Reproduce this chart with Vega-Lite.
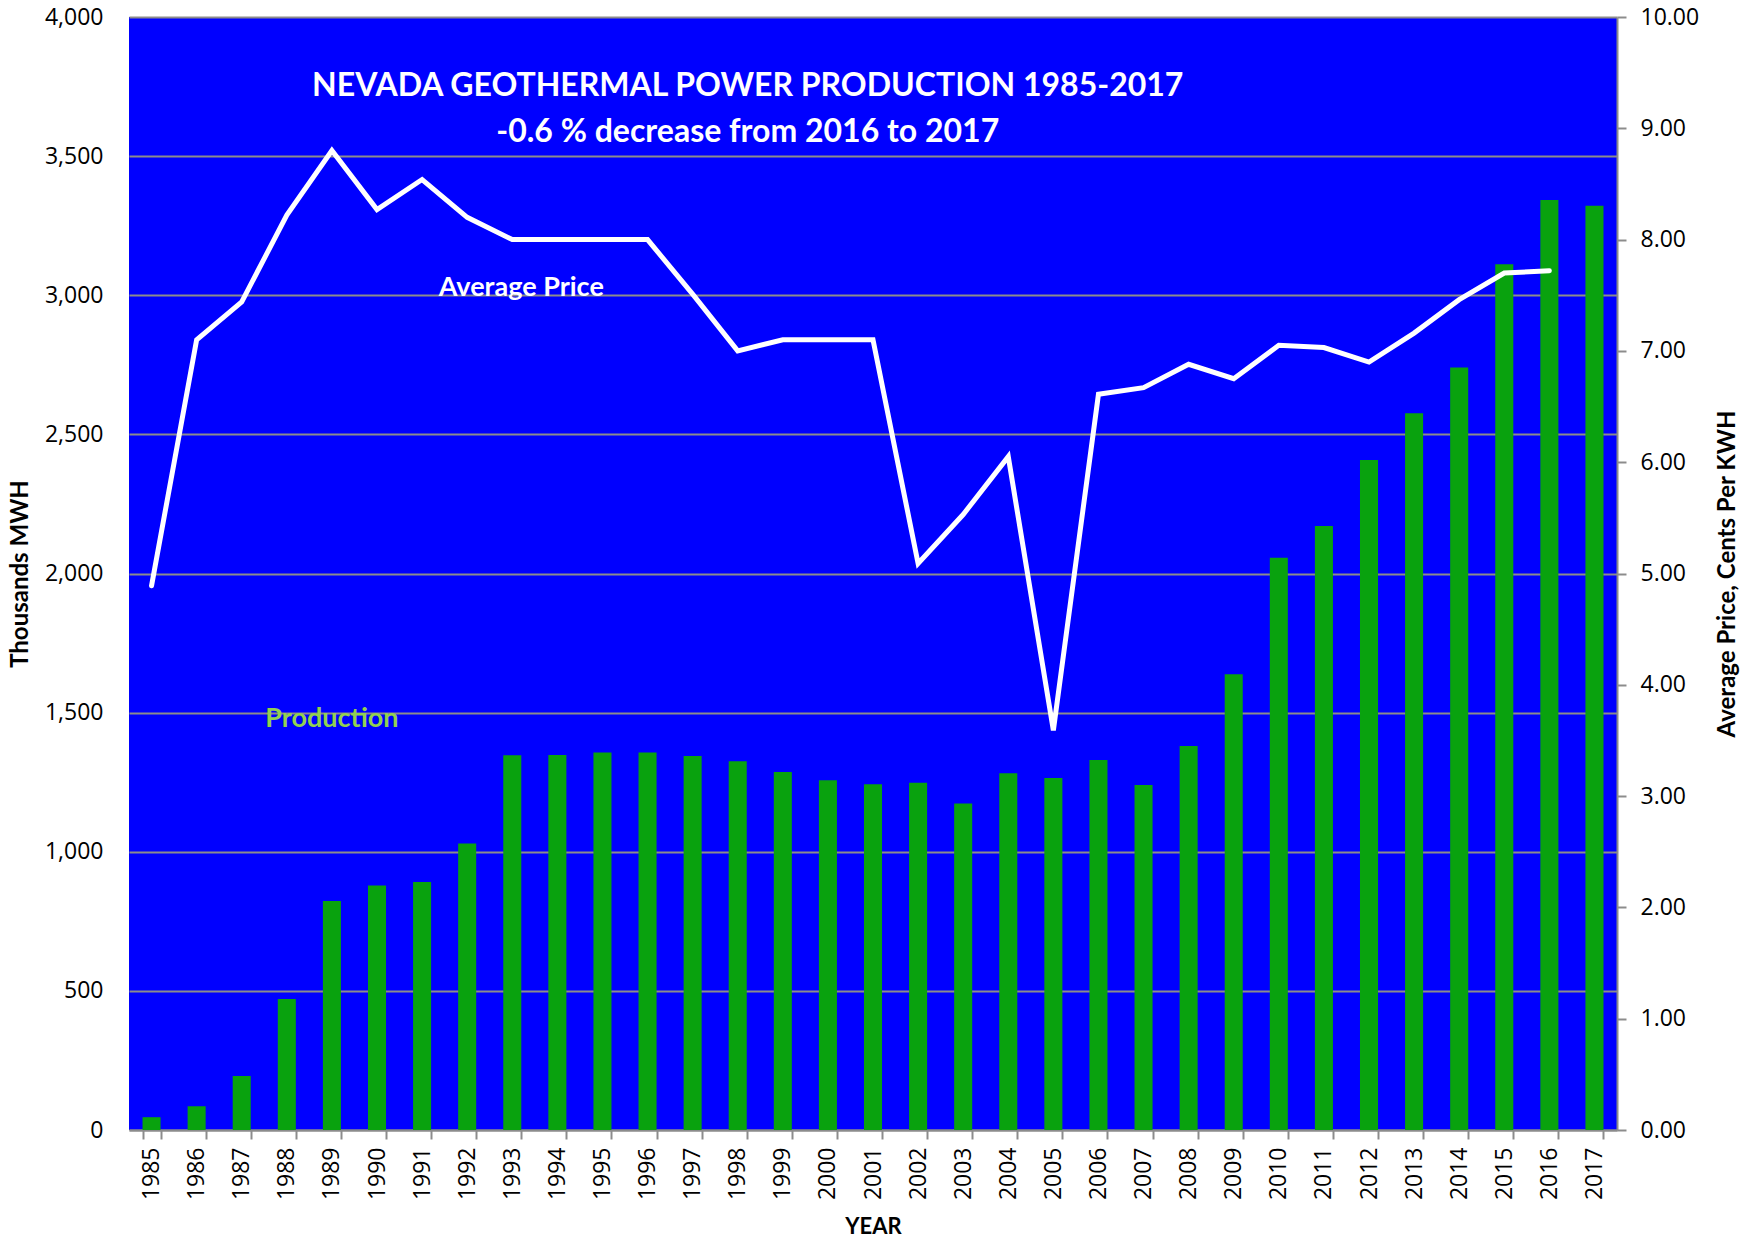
{
  "$schema": "https://vega.github.io/schema/vega-lite/v6.json",
  "width": 1488,
  "height": 1113,
  "autosize": {"type": "none"},
  "padding": {"left": 129, "top": 17, "right": 126, "bottom": 109},
  "background": "white",
  "config": {
    "view": {"fill": "#0000FF", "stroke": null},
    "font": "Open Sans",
    "axis": {
      "labelFont": "Open Sans",
      "labelFontSize": 23,
      "labelColor": "#000000",
      "titleFont": "Lato",
      "titleFontWeight": "bold",
      "titleFontSize": 24,
      "titleColor": "#000000",
      "domainColor": "#8c8c8c",
      "domainWidth": 2,
      "tickColor": "#8c8c8c",
      "tickWidth": 2,
      "tickSize": 9,
      "gridColor": "#8c8c8c",
      "gridWidth": 2
    }
  },
  "data": {
    "values": [
      {"year": "1985", "production": 46, "price": 4.89},
      {"year": "1986", "production": 85, "price": 7.10},
      {"year": "1987", "production": 194, "price": 7.44},
      {"year": "1988", "production": 471, "price": 8.22},
      {"year": "1989", "production": 823, "price": 8.80},
      {"year": "1990", "production": 879, "price": 8.27},
      {"year": "1991", "production": 891, "price": 8.54},
      {"year": "1992", "production": 1030, "price": 8.20},
      {"year": "1993", "production": 1347, "price": 8.00},
      {"year": "1994", "production": 1348, "price": 8.00},
      {"year": "1995", "production": 1357, "price": 8.00},
      {"year": "1996", "production": 1357, "price": 8.00},
      {"year": "1997", "production": 1344, "price": 7.51},
      {"year": "1998", "production": 1325, "price": 7.00},
      {"year": "1999", "production": 1287, "price": 7.10},
      {"year": "2000", "production": 1257, "price": 7.10},
      {"year": "2001", "production": 1243, "price": 7.10},
      {"year": "2002", "production": 1248, "price": 5.09},
      {"year": "2003", "production": 1173, "price": 5.53},
      {"year": "2004", "production": 1282, "price": 6.05},
      {"year": "2005", "production": 1265, "price": 3.59},
      {"year": "2006", "production": 1330, "price": 6.61},
      {"year": "2007", "production": 1240, "price": 6.67},
      {"year": "2008", "production": 1380, "price": 6.88},
      {"year": "2009", "production": 1638, "price": 6.75},
      {"year": "2010", "production": 2057, "price": 7.05},
      {"year": "2011", "production": 2171, "price": 7.03},
      {"year": "2012", "production": 2408, "price": 6.90},
      {"year": "2013", "production": 2576, "price": 7.16},
      {"year": "2014", "production": 2740, "price": 7.46},
      {"year": "2015", "production": 3111, "price": 7.70},
      {"year": "2016", "production": 3342, "price": 7.72},
      {"year": "2017", "production": 3322, "price": null}
    ]
  },
  "encoding": {
    "x": {
      "field": "year",
      "type": "ordinal",
      "scale": {"paddingInner": 0.6, "paddingOuter": 0.3},
      "axis": {
        "title": "YEAR",
        "labelAngle": 270,
        "labelAlign": "right",
        "labelBaseline": "middle",
        "labelPadding": 8,
        "tickBand": "extent",
        "titlePadding": 17,
        "titleFontSize": 22,
        "grid": false
      }
    }
  },
  "layer": [
    {
      "layer": [
        {
          "mark": {"type": "bar", "color": "#09A20E"},
          "encoding": {
            "y": {
              "field": "production",
              "type": "quantitative",
              "scale": {"domain": [0, 4000], "nice": false},
              "axis": {
                "orient": "left",
                "title": "Thousands MWH",
                "values": [0, 500, 1000, 1500, 2000, 2500, 3000, 3500, 4000],
                "format": ",.0f",
                "domain": false,
                "ticks": false,
                "grid": true,
                "labelPadding": 26,
                "titlePadding": 12
              }
            }
          }
        },
        {
          "data": {
            "values": [
              {"year": "1998", "value": 3752, "label": "NEVADA GEOTHERMAL POWER PRODUCTION 1985-2017"},
              {"year": "1998", "value": 3588, "label": "-0.6 % decrease from 2016 to 2017"}
            ]
          },
          "mark": {"type": "text", "font": "Lato", "fontWeight": "bold", "fontSize": 32, "color": "white", "align": "center", "baseline": "middle", "dx": 10},
          "encoding": {
            "y": {"field": "value", "type": "quantitative"},
            "text": {"field": "label"}
          }
        },
        {
          "data": {
            "values": [
              {"year": "1989", "value": 1477, "label": "Production"}
            ]
          },
          "mark": {"type": "text", "font": "Lato", "fontWeight": "bold", "fontSize": 27, "color": "#92D050", "align": "center", "baseline": "middle"},
          "encoding": {
            "y": {"field": "value", "type": "quantitative"},
            "text": {"field": "label"}
          }
        }
      ]
    },
    {
      "layer": [
        {
          "transform": [{"filter": "datum.price != null"}],
          "mark": {"type": "line", "color": "white", "strokeWidth": 5, "strokeCap": "round", "strokeJoin": "miter"},
          "encoding": {
            "y": {
              "field": "price",
              "type": "quantitative",
              "scale": {"domain": [0, 10], "nice": false},
              "axis": {
                "orient": "right",
                "title": "Average Price, Cents Per KWH",
                "titleAngle": 270,
                "values": [0, 1, 2, 3, 4, 5, 6, 7, 8, 9, 10],
                "format": ".2f",
                "grid": false,
                "labelPadding": 14,
                "titlePadding": 41
              }
            }
          }
        },
        {
          "data": {
            "values": [
              {"year": "1993", "price": 7.565, "label": "Average Price"}
            ]
          },
          "mark": {"type": "text", "font": "Lato", "fontWeight": "bold", "fontSize": 27, "color": "white", "align": "center", "baseline": "middle", "dx": 9},
          "encoding": {
            "y": {"field": "price", "type": "quantitative"},
            "text": {"field": "label"}
          }
        }
      ]
    }
  ],
  "resolve": {"scale": {"y": "independent"}}
}
